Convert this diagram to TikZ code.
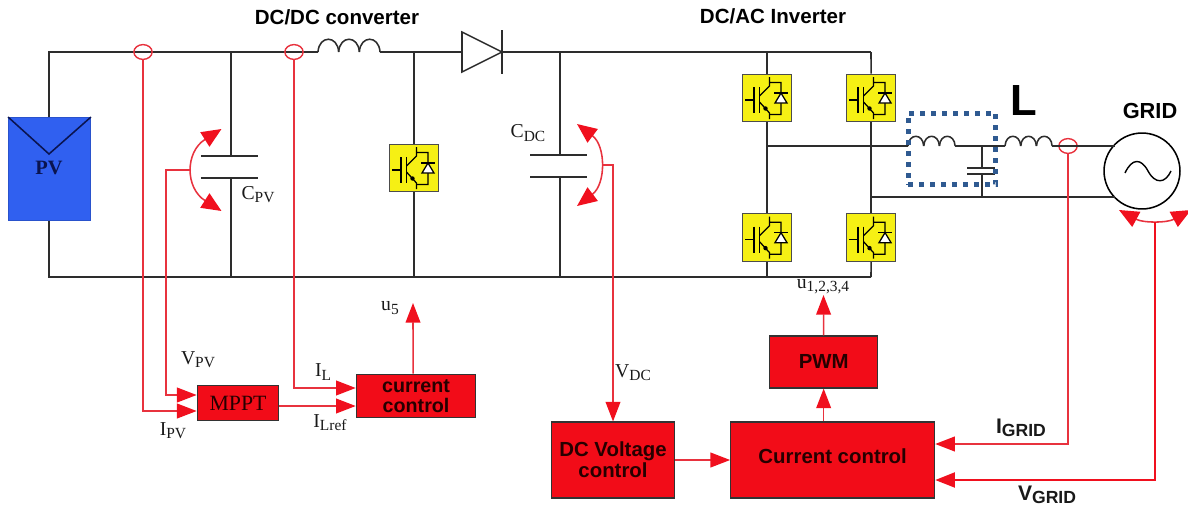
\documentclass[tikz,border=0pt]{standalone}
\usepackage{fontspec}
\setmainfont{Liberation Serif}
\setsansfont{Liberation Sans}
\usetikzlibrary{shapes.geometric, arrows.meta}
\definecolor{wirecol}{RGB}{45,45,45}
\definecolor{boxred}{RGB}{242,12,24}
\definecolor{senscol}{RGB}{232,50,62}
\definecolor{tipred}{RGB}{240,16,30}
\definecolor{pvblue}{RGB}{48,96,240}
\definecolor{pvnavy}{RGB}{10,20,80}
\definecolor{filterblue}{RGB}{47,90,145}
\definecolor{igbtyellow}{RGB}{246,240,20}
\newcommand{\sublabel}[2]{#1\raisebox{-.35ex}{\fontsize{11}{11}\selectfont #2}}
\newcommand{\subgrid}[2]{{\fontsize{15}{15}\selectfont #1}\raisebox{-.35ex}{\fontsize{12.5}{12.5}\selectfont #2}}
\tikzstyle{wire} = [draw=wirecol, line width=1.1pt]
\tikzstyle{process} = [rectangle, draw=black!80, fill=boxred, line width=.8pt, text=black!85!red, align=center, inner sep=0pt, font=\sffamily\bfseries\fontsize{14.5}{15}\selectfont]
\tikzstyle{switchbox} = [rectangle, draw=black!70, fill=igbtyellow, line width=.8pt, minimum width=35pt, minimum height=34pt, inner sep=0pt]
\tikzstyle{sensor} = [ellipse, draw=senscol, line width=1pt, minimum width=13pt, minimum height=10.5pt, inner sep=0pt]
\tikzstyle{arrow} = [draw=senscol, line width=1.1pt, -{Triangle[length=14pt, width=10.5pt, color=tipred]}]
\tikzstyle{bigarrow} = [arrow, draw=tipred, line width=1.9pt]
\tikzstyle{swing} = [draw=senscol, line width=1.1pt, {Triangle[length=14pt, width=12pt, color=tipred]}-{Triangle[length=14pt, width=12pt, color=tipred]}]
\tikzstyle{dottedline} = [draw=filterblue, line width=3.5pt, dash pattern=on 3.5pt off 4.3pt]
\tikzstyle{title} = [font=\sffamily\bfseries\fontsize{14.6}{15}\selectfont]
\tikzstyle{value} = [font=\fontsize{14}{15}\selectfont, text=black!90, inner sep=0pt]
\tikzstyle{gridvalue} = [font=\sffamily\bfseries\fontsize{14}{15}\selectfont, text=black!90, inner sep=0pt]
\tikzset{
  coil/.pic={
    \foreach \k in {0,1,2}
      \draw [wire] (\k*20.67,0) .. controls (\k*20.67+1,-17) and (\k*20.67+19.67,-17) .. (\k*20.67+20.67,0);
  },
  igbt/.pic={
    \draw [black, line width=.9pt] (-22,2) -- (-13,2) (-13,-11) -- (-13,15) (-7.5,-11) -- (-7.5,15);
    \draw [black, line width=.9pt] (-7.5,-2) -- (2.5,-12) -- (2.5,-21) (2.5,-15.5) -- (14,-15.5) -- (14,16.5) -- (2.5,16.5);
    \draw [black, line width=.9pt] (-7.5,4) -- (2.5,15) -- (2.5,21);
    \fill [black] (-1.5,10.5) circle (2.2);
    \draw [black, line width=.9pt, fill=white] (14,-5) -- (20,5) -- (8,5) -- cycle;
    \draw [black, line width=.9pt] (7,-5) -- (21,-5);
  }
}
\begin{document}
\begin{tikzpicture}[x=.025cm, y=-.025cm, node distance=2.6cm]

    \useasboundingbox (0,0) rectangle (1188,520);

    % rails
    \coordinate (top_left) at (49,52);
    \coordinate (top_right) at (871,52);
    \coordinate (bot_left) at (49,277);
    \coordinate (bot_right) at (871,277);
    \coordinate (coil_in) at (318,52);
    \coordinate (coil_out) at (380,52);
    \coordinate (diode_in) at (462,52);
    \coordinate (diode_out) at (502,52);
    \coordinate (cpv_top) at (231,52);
    \coordinate (cpv_a) at (231,156);
    \coordinate (cpv_b) at (231,178);
    \coordinate (cpv_bot) at (231,277);
    \coordinate (cdc_top) at (560,52);
    \coordinate (cdc_a) at (560,155);
    \coordinate (cdc_b) at (560,177);
    \coordinate (cdc_bot) at (560,277);
    \coordinate (boost_top) at (414,52);
    \coordinate (boost_bot) at (414,277);

    \node (pv) [rectangle, draw=pvblue!85!black, fill=pvblue, minimum width=58.5pt, minimum height=73.5pt, inner sep=0pt] at (49.5,169) {};
    \node (pv_text) [value, text=pvnavy, font=\bfseries\fontsize{14.5}{15}\selectfont] at (49,168) {PV};
    \coordinate (pv_tip) at (49,154);

    \node (sw_boost) [switchbox] at (414,168) {};
    \node (sw_a) [switchbox] at (767,98) {};
    \node (sw_b) [switchbox, right of=sw_a] {};
    \node (sw_c) [switchbox, below of=sw_a, node distance=3.49cm] {};
    \node (sw_d) [switchbox, right of=sw_c] {};

    \draw [wire] (pv.north -| top_left) -- (top_left) -- (coil_in);
    \draw [wire] (coil_out) -- (diode_in);
    \draw [wire] (diode_out) -- (top_right);
    \draw [wire] (pv.south -| bot_left) -- (bot_left) -- (bot_right);
    \draw [wire, draw=pvnavy] (pv.north west) -- (pv_tip) -- (pv.north east);
    \draw [wire] (cpv_top) -- (cpv_a);
    \draw [wire] (cpv_b) -- (cpv_bot);
    \draw [wire] ([xshift=-.75cm]cpv_a) -- ([xshift=.675cm]cpv_a);
    \draw [wire] ([xshift=-.75cm]cpv_b) -- ([xshift=.675cm]cpv_b);
    \draw [wire] (cdc_top) -- (cdc_a);
    \draw [wire] (cdc_b) -- (cdc_bot);
    \draw [wire] ([xshift=-.75cm]cdc_a) -- ([xshift=.675cm]cdc_a);
    \draw [wire] ([xshift=-.75cm]cdc_b) -- ([xshift=.675cm]cdc_b);
    \draw [wire] (boost_top) -- (sw_boost.north);
    \draw [wire] (sw_boost.south) -- (boost_bot);
    \draw [wire] (diode_in) ++(0,-20) -- (diode_out) -- ++(-40,20) -- cycle;
    \draw [wire] (diode_out) ++(0,-22) -- ++(0,44);
    \pic at (coil_in) {coil};

    % inverter legs
    \draw [wire] (sw_a.north |- top_right) -- (sw_a.north);
    \draw [wire] (top_right) -- (sw_b.north);
    \draw [wire] (sw_a.south) -- (sw_c.north);
    \draw [wire] (sw_b.south) -- (sw_d.north);
    \draw [wire] (sw_c.south) -- (sw_c.south |- bot_right);
    \draw [wire] (sw_d.south) -- (bot_right);
    \pic at (sw_boost) {igbt};
    \pic at (sw_a) {igbt};
    \pic at (sw_b) {igbt};
    \pic at (sw_c) {igbt};
    \pic at (sw_d) {igbt};

    % output filter
    \coordinate (leg_mid) at (767,146);
    \coordinate (leg_low) at (871,197);
    \coordinate (filter_in) at (908,146);
    \coordinate (filter_out) at (955,146);
    \coordinate (line_in) at (1005,146);
    \coordinate (line_out) at (1052,146);
    \coordinate (cf_top) at (982,146);
    \coordinate (cf_a) at (982,168);
    \coordinate (cf_b) at (982,174);
    \coordinate (cf_bot) at (982,197);
    \coordinate (sine_a) at (1125,173);
    \coordinate (sine_m) at (1148,171);
    \coordinate (sine_b) at (1171,171);
    \node (grid) [circle, draw=black, line width=1.1pt, minimum size=54pt, inner sep=0pt] at (1142,171) {};
    \node (sensor_grid) [sensor] at (1068,146) {};
    \draw [wire] (leg_mid) -- (filter_in);
    \draw [wire] (filter_out) -- (line_in);
    \draw [wire] (line_out) -- (grid.north west |- line_out);
    \draw [wire] (leg_low) -- (grid.south west |- leg_low);
    \draw [wire] (cf_top) -- (cf_a);
    \draw [wire] (cf_b) -- (cf_bot);
    \draw [wire] ([xshift=-.375cm]cf_a) -- ([xshift=.325cm]cf_a);
    \draw [wire] ([xshift=-.375cm]cf_b) -- ([xshift=.325cm]cf_b);
    \pic [scale=.76] at (filter_in) {coil};
    \pic [scale=.76] at (line_in) {coil};
    \draw [black, line width=1pt] (sine_a) .. controls (1132,158) and (1141,158) .. (sine_m) .. controls (1155,184) and (1165,184) .. (sine_b);
    \node (filter_box) [dottedline, rectangle, minimum width=62.4pt, minimum height=51pt, inner sep=0pt] at (952,149) {};

    \node (dc_title) [title] at (337,17) {DC/DC converter};
    \node (ac_title) [title] at (773,16) {DC/AC Inverter};
    \node (grid_title) [title, font=\sffamily\bfseries\fontsize{15.5}{16}\selectfont] at (1150,111) {GRID};
    \node (l_label) [font=\sffamily\bfseries\fontsize{31}{31}\selectfont, inner sep=0pt] at (1024,101) {L};

    % control blocks
    \node (mppt) [process, minimum width=58pt, minimum height=25.5pt, font=\fontsize{15.5}{16}\selectfont] at (238,403) {MPPT};
    \node (current_loop) [process, right of=mppt, node distance=4.45cm, yshift=.175cm, minimum width=85pt, minimum height=31pt, font=\sffamily\bfseries\fontsize{14}{15}\selectfont] {current\\[-1pt]control};
    \node (dc_voltage) [process, minimum width=88pt, minimum height=54pt] at (613,460) {DC Voltage\\control};
    \node (current_ctrl) [process, right of=dc_voltage, node distance=5.49cm, minimum width=145pt, minimum height=54pt, text depth=5pt] {Current control};
    \node (pwm) [process, above of=current_ctrl, node distance=2.45cm, xshift=-.225cm, minimum width=77pt, minimum height=37pt] {PWM};

    \node (sensor_ipv) [sensor] at (143,52) {};
    \node (sensor_il) [sensor] at (294,52) {};
    \coordinate (cpv_up) at (221.5,129);
    \coordinate (cpv_down) at (221.5,211);
    \coordinate (cpv_tap) at (191,170);
    \coordinate (cpv_bend) at (166,170);
    \coordinate (cdc_up) at (577,124);
    \coordinate (cdc_down) at (577,206);
    \coordinate (cdc_tap) at (602,165);
    \coordinate (cdc_bend) at (613,165);
    \coordinate (grid_left) at (1119,210);
    \coordinate (grid_right) at (1191,210);
    \coordinate (grid_tap) at (1155,222);
    \coordinate (u5_out) at (413,303);
    \coordinate (u_out) at (823.5,295);

    \draw [swing] (cpv_up) .. controls (185,152) and (185,188) .. (cpv_down);
    \draw [swing] (cdc_up) .. controls (606,146) and (606,184) .. (cdc_down);
    \draw [swing] (grid_left) .. controls (1143,223) and (1167,223) .. (grid_right);

    \draw [arrow] (sensor_ipv.south) |- ([yshift=-.2cm]mppt.west);
    \draw [arrow] (cpv_tap) -- (cpv_bend) |- ([yshift=.2cm]mppt.west);
    \draw [arrow] (sensor_il.south) |- ([yshift=.2cm]current_loop.west);
    \draw [arrow] ([yshift=-.075cm]mppt.east) -- ([yshift=-.25cm]current_loop.west);
    \draw [arrow] ([xshift=-.075cm]current_loop.north) -- (u5_out);
    \draw [arrow] (cdc_tap) -- (cdc_bend) -- (cdc_bend |- dc_voltage.north);
    \draw [arrow] (dc_voltage.east) -- (current_ctrl.west);
    \draw [arrow] (current_ctrl.north -| pwm.south) -- (pwm.south);
    \draw [arrow] (pwm.north) -- (u_out);
    \draw [arrow] (sensor_grid.south) |- ([yshift=.4cm]current_ctrl.east);
    \draw [bigarrow] (grid_tap) |- ([yshift=-.5cm]current_ctrl.east);

    % labels
    \node (c_pv) [value] at (258,195) {\sublabel{C}{PV}};
    \node (c_dc) [value] at (528,133) {\sublabel{C}{DC}};
    \node (v_pv) [value] at (198,360) {\sublabel{V}{PV}};
    \node (i_pv) [value] at (173,431) {\sublabel{I}{PV}};
    \node (i_l) [value] at (323,372) {\sublabel{I}{L}};
    \node (i_lref) [value] at (330,423) {\sublabel{I}{Lref}};
    \node (u_five) [value] at (390,308) {\sublabel{u}{5}};
    \node (v_dc) [value] at (633,373) {\sublabel{V}{DC}};
    \node (u_gates) [value] at (823,287) {\sublabel{u}{1,2,3,4}};
    \node (i_grid) [gridvalue] at (1021,428) {\subgrid{I}{GRID}};
    \node (v_grid) [gridvalue] at (1047,495) {\subgrid{V}{GRID}};

\end{tikzpicture}
\end{document}
